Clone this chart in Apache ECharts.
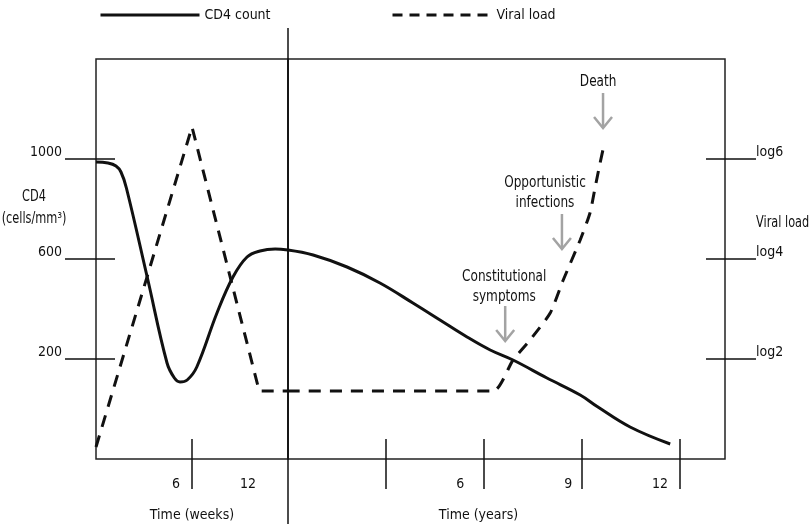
<!DOCTYPE html>
<html><head><meta charset="utf-8">
<script src="https://cdn.jsdelivr.net/npm/echarts@6/dist/echarts.min.js"></script>
<style>html,body{margin:0;padding:0;background:#fff}#c{width:810px;height:524px}</style>
</head><body><div id="c"></div>
<script>
// ---------- data ----------
const seriesNames = ['CD4 count', 'Viral load'];
// acute phase, x in weeks
const cd4Weeks = [[0,988],[0.75,984],[1.25,972],[1.56,948],[1.9,884],[3.2,528],[4.44,184],[4.9,124],[5.25,108],[5.7,116],[6.3,168],[7.56,384],[8.56,528],[9.44,608],[10.25,632],[11.2,640],[12,636]];
const viralWeeks = [[0,0.24],[6,6.64],[10.2,1.36],[12,1.36]];
// chronic phase, x in years
const cd4Years = [[0,636],[0.77,616],[1.81,568],[2.82,504],[3.83,424],[4.66,356],[5.49,288],[6.2,236],[6.9,196],[7.94,124],[8.96,56],[9.48,10],[10.49,-72],[11.72,-140]];
const viralYears = [[0,1.36],[6.29,1.36],[6.9,1.98],[7.42,2.38],[8.04,2.92],[8.44,3.58],[8.96,4.38],[9.26,4.92],[9.42,5.44],[9.57,5.92],[9.69,6.28]];
// ticks and labels
const weekTicks = [6];
const weekLabelAt = [5.0, 9.5];
const weekLabels = ['6', '12'];
const yearTicks = [3, 6, 9, 12];
const yearLabelAt = [5.28, 8.59, 11.41];
const yearLabels = ['6', '9', '12'];
const cd4Ticks = [200, 600, 1000];
const viralTicks = [2, 4, 6];
const viralLabels = ['log2', 'log4', 'log6'];
const annotations = [
  {text: 'Death', tx: 9.51, ty: 7.54, ax: 9.66, ay1: 7.32, ay2: 6.62},
  {text: 'Opportunistic\ninfections', tx: 7.88, ty: 5.33, ax: 8.40, ay1: 4.90, ay2: 4.20},
  {text: 'Constitutional\nsymptoms', tx: 6.63, ty: 3.44, ax: 6.66, ay1: 3.06, ay2: 2.36}
];

// ---------- chart ----------
const FONT = "'Liberation Sans Narrow','Arial Narrow','DejaVu Sans Condensed',sans-serif";
const INK = '#111';
const chart = echarts.init(document.getElementById('c'), null, {renderer: 'canvas'});

function pick(pos, labels) {
  return function (v) {
    let best = -1, d = 1e9;
    pos.forEach((p, i) => { if (Math.abs(p - v) < d) { d = Math.abs(p - v); best = i; } });
    return d < 1e-6 ? labels[best] : '';
  };
}
const tickStyle = {show: true, length: 50, lineStyle: {color: INK, width: 1.5}};
const lblStyle = {color: INK, fontFamily: FONT, fontSize: 14};
const legText = {color: INK, fontFamily: FONT, fontSize: 14};

chart.setOption({
  animation: false,
  backgroundColor: '#fff',
  grid: [
    {left: 96, top: 59, width: 192, height: 400, show: true, borderColor: '#222', borderWidth: 1.5,
     outerBoundsMode: 'none', containLabel: false},
    {left: 288, top: 59, width: 437, height: 400, show: true, borderColor: '#222', borderWidth: 1.5,
     outerBoundsMode: 'none', containLabel: false}
  ],
  legend: [
    {data: [seriesNames[0]], left: 94, top: 3, itemWidth: 99, itemHeight: 14, itemGap: 5,
     textStyle: legText, itemStyle: {opacity: 0}, lineStyle: {width: 3, color: INK, type: 'solid'}},
    {data: [seriesNames[1]], left: 386, top: 3, itemWidth: 99, itemHeight: 14,
     textStyle: legText, itemStyle: {opacity: 0}, lineStyle: {width: 3, color: INK, type: [10, 7]}}
  ],
  xAxis: [
    {type: 'value', gridIndex: 0, min: 0, max: 12, offset: -20,
     axisLine: {show: false, onZero: false}, splitLine: {show: false},
     axisTick: Object.assign({customValues: weekTicks}, tickStyle),
     axisLabel: Object.assign({customValues: weekLabelAt, margin: 38, formatter: pick(weekLabelAt, weekLabels)}, lblStyle),
     name: 'Time (weeks)', nameLocation: 'middle', nameGap: 69,
     nameTextStyle: {color: INK, fontFamily: FONT, fontSize: 14}},
    {type: 'value', gridIndex: 1, min: 0, max: 13.4, offset: -20,
     axisLine: {show: false, onZero: false}, splitLine: {show: false},
     axisTick: Object.assign({customValues: yearTicks}, tickStyle),
     axisLabel: Object.assign({customValues: yearLabelAt, margin: 38, formatter: pick(yearLabelAt, yearLabels)}, lblStyle),
     name: 'Time (years)', nameLocation: 'middle', nameGap: 69,
     nameTextStyle: {color: INK, fontFamily: FONT, fontSize: 14, padding: [0, 56, 0, 0]}}
  ],
  yAxis: [
    {type: 'value', gridIndex: 0, min: -200, max: 1400, position: 'left', offset: -19,
     axisLine: {show: false, onZero: false}, splitLine: {show: false},
     axisTick: Object.assign({customValues: cd4Ticks}, tickStyle),
     axisLabel: Object.assign({customValues: cd4Ticks, margin: 53, verticalAlign: 'bottom', lineHeight: 13,
       formatter: v => String(v)}, lblStyle)},
    {type: 'value', gridIndex: 0, min: 0, max: 8, show: false},
    {type: 'value', gridIndex: 1, min: -200, max: 1400, show: false},
    {type: 'value', gridIndex: 1, min: 0, max: 8, position: 'right', offset: -19,
     axisLine: {show: false, onZero: false}, splitLine: {show: false},
     axisTick: Object.assign({customValues: viralTicks}, tickStyle),
     axisLabel: Object.assign({customValues: viralTicks, margin: 50, verticalAlign: 'bottom', lineHeight: 14,
       formatter: pick(viralTicks, viralLabels)}, lblStyle)}
  ],
  series: [
    {name: seriesNames[0], type: 'line', xAxisIndex: 0, yAxisIndex: 0, data: cd4Weeks, smooth: 0.4,
     symbol: 'none', lineStyle: {color: INK, width: 3}, itemStyle: {color: INK}},
    {name: seriesNames[0], type: 'line', xAxisIndex: 1, yAxisIndex: 2, data: cd4Years, smooth: 0.4,
     symbol: 'none', lineStyle: {color: INK, width: 3}, itemStyle: {color: INK}},
    {name: seriesNames[1], type: 'line', xAxisIndex: 0, yAxisIndex: 1, data: viralWeeks, smooth: false,
     symbol: 'none', lineStyle: {color: INK, width: 3, type: [12, 9]}, itemStyle: {color: INK}},
    {name: seriesNames[1], type: 'line', xAxisIndex: 1, yAxisIndex: 3, data: viralYears, smooth: 0.2,
     symbol: 'none', lineStyle: {color: INK, width: 3, type: [12, 9]}, itemStyle: {color: INK}}
  ]
});

// decorations: divider between phases, axis titles, annotation arrows
const divX = chart.convertToPixel({xAxisIndex: 1}, 0);
const SX = 0.84;
const g = [
  {type: 'line', shape: {x1: divX, y1: 28, x2: divX, y2: 524}, style: {stroke: INK, lineWidth: 1.5}, z: 50},
  {type: 'text', x: 34, y: 208, scaleX: SX, style: {text: 'CD4\n(cells/mm³)', align: 'center', verticalAlign: 'middle',
     font: '15px ' + FONT, fill: INK, lineHeight: 22}},
  {type: 'text', x: 756, y: 223, scaleX: SX, style: {text: 'Viral load', align: 'left', verticalAlign: 'middle',
     font: '15px ' + FONT, fill: INK}}
];
annotations.forEach(a => {
  const t = chart.convertToPixel({xAxisIndex: 1, yAxisIndex: 3}, [a.tx, a.ty]);
  const p1 = chart.convertToPixel({xAxisIndex: 1, yAxisIndex: 3}, [a.ax, a.ay1]);
  const p2 = chart.convertToPixel({xAxisIndex: 1, yAxisIndex: 3}, [a.ax, a.ay2]);
  g.push({type: 'text', x: t[0], y: t[1], scaleX: SX, style: {text: a.text, align: 'center', verticalAlign: 'middle',
     font: '16px ' + FONT, fill: INK, lineHeight: 20}});
  g.push({type: 'polyline', shape: {points: [p1, p2]}, style: {stroke: '#a3a3a3', lineWidth: 2.5, fill: null}});
  g.push({type: 'polyline', shape: {points: [[p2[0] - 9, p2[1] - 11], p2, [p2[0] + 9, p2[1] - 11]]},
     style: {stroke: '#a3a3a3', lineWidth: 2.5, fill: null}});
});
chart.setOption({graphic: g});
</script>
</body></html>
